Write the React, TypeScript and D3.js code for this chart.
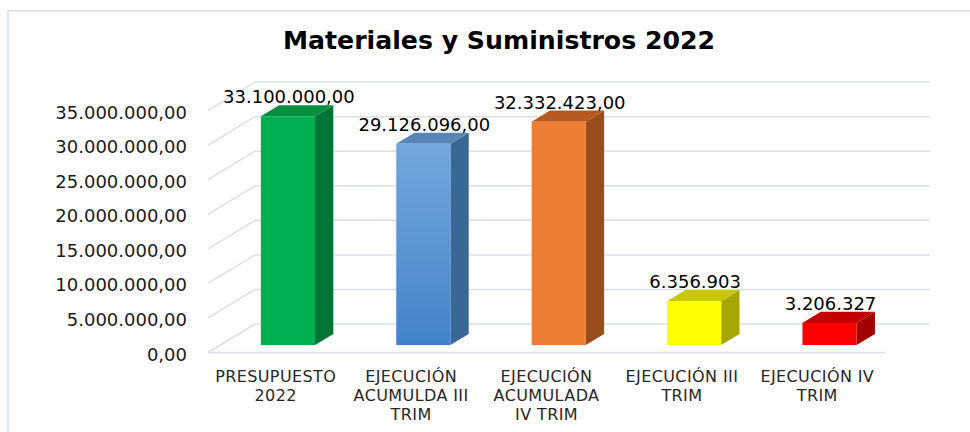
import React from "react";
import * as d3 from "d3";

const categories = [
  ["PRESUPUESTO", "2022"],
  ["EJECUCIÓN", "ACUMULDA III", "TRIM"],
  ["EJECUCIÓN", "ACUMULADA", "IV TRIM"],
  ["EJECUCIÓN III", "TRIM"],
  ["EJECUCIÓN IV", "TRIM"],
];
const values = [33100000, 29126096, 32332423, 6356903, 3206327];
const valueLabels = ["33.100.000,00", "29.126.096,00", "32.332.423,00", "6.356.903", "3.206.327"];
const tickValues = [0, 5000000, 10000000, 15000000, 20000000, 25000000, 30000000, 35000000];

// front / side / top colours per bar
const faceColors = [
  { front: ["#00B050", "#00B050"], side: "#007535", top: "#008F3E" },
  { front: ["#74A7DD", "#4283C8"], side: "#3A6894", top: "#5884B6" },
  { front: ["#ED7D31", "#ED7D31"], side: "#994D1C", top: "#B85A1F" },
  { front: ["#FFFF00", "#FFFF00"], side: "#A6A600", top: "#C8C800" },
  { front: ["#FF0000", "#FF0000"], side: "#A30000", top: "#C40000" },
];

const W = 970;
const H = 432;
const font = "Verdana, 'DejaVu Sans', sans-serif";

export default function App() {
  // floor geometry (3D projection)
  const floorLeft = 208;
  const floorRight = 885;
  const floorFront = 352.5;
  const depthX = 47;
  const depthY = 28.5;
  const barT0 = 0.26;
  const barT1 = 0.65;

  const x = d3
    .scaleBand<number>()
    .domain(d3.range(values.length))
    .range([floorLeft, floorRight])
    .paddingInner(0.6)
    .paddingOuter(0.3);

  const h = d3.scaleLinear().domain([0, 35000000]).range([0, 241.9]);
  const fmt = (v: number) =>
    d3.format(",.2f")(v).replace(/,/g, "X").replace(".", ",").replace(/X/g, ".");

  const gridColor = "#DCE0E6";
  const backX0 = floorLeft + depthX;
  const backX1 = 930;

  return (
    <svg width={W} height={H} style={{ position: "absolute", left: 0, top: 0, background: "#fff" }}>
      <defs>
        {faceColors.map((c, i) => (
          <linearGradient key={i} id={`fg${i}`} x1="0" y1="0" x2="0" y2="1">
            <stop offset="0" stopColor={c.front[0]} />
            <stop offset="1" stopColor={c.front[1]} />
          </linearGradient>
        ))}
      </defs>
      <rect x={0} y={0} width={W} height={H} fill="#fff" />
      {/* chart border */}
      <path d={`M8,${H} V10.8 H${W}`} fill="none" stroke="#D9DEE6" strokeWidth={1.6} />

      <text
        x={499}
        y={49}
        textAnchor="middle"
        fontFamily={font}
        fontWeight="bold"
        fontSize={25.2}
        fill="#000"
      >
        Materiales y Suministros 2022
      </text>

      {/* walls gridlines */}
      <g stroke={gridColor} strokeWidth={1.5} fill="none">
        {tickValues.map((v) => {
          const yf = floorFront - h(v);
          const yb = yf - depthY;
          return (
            <g key={v}>
              <line x1={floorLeft} y1={yf} x2={backX0} y2={yb} />
              <line x1={backX0} y1={yb} x2={backX1} y2={yb} />
            </g>
          );
        })}
        <line x1={floorLeft} y1={floorFront} x2={floorRight} y2={floorFront} />
      </g>

      {/* y tick labels */}
      <g fontFamily={font} fontSize={18} fill="#1a1a1a" textAnchor="end">
        {tickValues.map((v) => (
          <text key={v} x={187} y={floorFront - h(v) + 3} dominantBaseline="middle">
            {fmt(v)}
          </text>
        ))}
      </g>

      {/* bars */}
      {values.map((v, i) => {
        const c = faceColors[i];
        const bw = x.bandwidth();
        const fx = (x(i) as number) + barT0 * depthX;
        const fy = floorFront - barT0 * depthY;
        const dx = (barT1 - barT0) * depthX;
        const dy = (barT1 - barT0) * depthY;
        const top = fy - h(v);
        return (
          <g key={i}>
            <polygon
              points={`${fx + bw},${fy} ${fx + bw + dx},${fy - dy} ${fx + bw + dx},${top - dy} ${fx + bw},${top}`}
              fill={c.side}
            />
            <polygon
              points={`${fx},${top} ${fx + dx},${top - dy} ${fx + bw + dx},${top - dy} ${fx + bw},${top}`}
              fill={c.top}
            />
            <rect x={fx} y={top} width={bw} height={h(v)} fill={`url(#fg${i})`} />
            <text
              x={fx + bw / 2 + 1}
              y={top - dy - 2}
              textAnchor="middle"
              fontFamily={font}
              fontSize={18}
              fill="#000"
            >
              {valueLabels[i]}
            </text>
          </g>
        );
      })}

      {/* category labels */}
      <g fontFamily={font} fontSize={16} letterSpacing={0.4} fill="#262626" textAnchor="middle">
        {categories.map((lines, i) => (
          <text key={i} x={(x(i) as number) + x.bandwidth() / 2} y={381.5}>
            {lines.map((l, j) => (
              <tspan key={j} x={(x(i) as number) + x.bandwidth() / 2} dy={j === 0 ? 0 : 19}>
                {l}
              </tspan>
            ))}
          </text>
        ))}
      </g>
    </svg>
  );
}
